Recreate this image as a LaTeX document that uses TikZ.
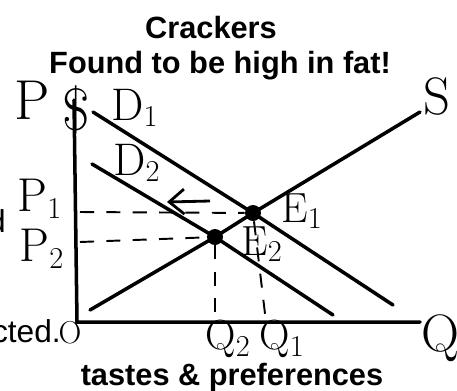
\documentclass[tikz,border=0pt]{standalone}
\usepackage{fontspec}
\setsansfont{Liberation Sans}
\definecolor{ink}{RGB}{0,0,0}
\usetikzlibrary{arrows.meta,positioning,calc}

\begin{document}
\begin{tikzpicture}[x=0.02cm,y=-0.02cm,
      ttl/.style={font=\sffamily\bfseries\fontsize{17.5}{17.5}\selectfont,anchor=base,inner sep=0pt},
      hand/.style={font=\fontsize{26}{26}\selectfont,inner sep=0pt,text=ink},
      curve/.style={line width=2pt,color=ink,line cap=round},
      guide/.style={line width=1.1pt,color=ink,dash pattern=on 8pt off 7pt},
      eqdot/.style={circle,fill=ink,inner sep=0pt,minimum size=0.32cm},
      shiftarr/.style={-{Straight Barb[length=0.3cm,width=0.5cm]},line width=1.6pt,color=ink}]
  \useasboundingbox (0,0) rectangle (457,390);
  % titles
  \node[ttl] (hd) at (211,38) {Crackers};
  \node[ttl] (sub) at (220,73) {Found to be high in fat!};
  \node[ttl] (tp) at (232,385) {tastes \& preferences};
  \node[font=\sffamily\fontsize{18}{18}\selectfont,anchor=base east,inner sep=0pt] (cut) at (61,342) {cted.};
  \node[font=\sffamily\fontsize{18}{18}\selectfont,anchor=base east,inner sep=0pt] (cut2) at (6,232) {d};
  % axes
  \coordinate (o) at (77,322);
  \coordinate (ytop) at (74,100);
  \coordinate (xend) at (420,322);
  \draw[curve] (ytop) -- (o) -- (xend);
  % equilibria
  \node[eqdot] (e1) at (253,213) {};
  \node[eqdot] (e2) at (215,237) {};
  % curves
  \coordinate (d1a) at (93,112); \coordinate (d1b) at (393,305);
  \coordinate (d2a) at (92,164); \coordinate (d2b) at (333,315);
  \coordinate (sa) at (90,310);  \coordinate (sb) at (420,112);
  \draw[curve] (d1a) -- (e1.center) -- (d1b);
  \draw[curve] (d2a) -- (e2.center) -- (d2b);
  \draw[curve] (sa) -- (e2.center) -- (e1.center) -- (sb);
  \coordinate (ar1) at (210,201); \coordinate (ar0) at (167,202);
  \draw[shiftarr] (ar1) -- (ar0);
  % guides
  \coordinate (p1) at (80,212); \coordinate (p2) at (80,242);
  \coordinate (q2) at (215,322); \coordinate (q1) at (266,322);
  \draw[guide] (p1) -- (e1);
  \draw[guide] (p2) -- (e2);
  \draw[guide] (e2) -- (q2);
  \draw[guide] (e1) -- (q1);
  % labels
  \node[hand,font=\fontsize{32}{32}\selectfont] (lp) at (32,100) {P};
  \node[hand,font=\fontsize{34}{34}\selectfont] (ldol) at (76,110) {\$};
  \node[hand] (ld1) at (135,108) {D$_1$};
  \node[hand] (ld2) at (137,163) {D$_2$};
  \node[hand,font=\fontsize{30}{30}\selectfont] (ls) at (437,96) {S};
  \node[hand,font=\fontsize{24}{24}\selectfont] (le1) at (302,211) {E$_1$};
  \node[hand,font=\fontsize{24}{24}\selectfont] (le2) at (262,244) {E$_2$};
  \node[hand,font=\fontsize{27}{27}\selectfont] (lp1) at (40,199) {P$_1$};
  \node[hand,font=\fontsize{27}{27}\selectfont] (lp2) at (42,249) {P$_2$};
  \node[hand,font=\fontsize{24}{24}\selectfont] (lq2) at (228,339) {Q$_2$};
  \node[hand,font=\fontsize{24}{24}\selectfont] (lq1) at (282,339) {Q$_1$};
  \node[hand,font=\fontsize{30}{30}\selectfont] (lq) at (440,338) {Q};
  \node[hand,font=\fontsize{18}{18}\selectfont] (lo) at (70,333) {O};
\end{tikzpicture}
\end{document}
